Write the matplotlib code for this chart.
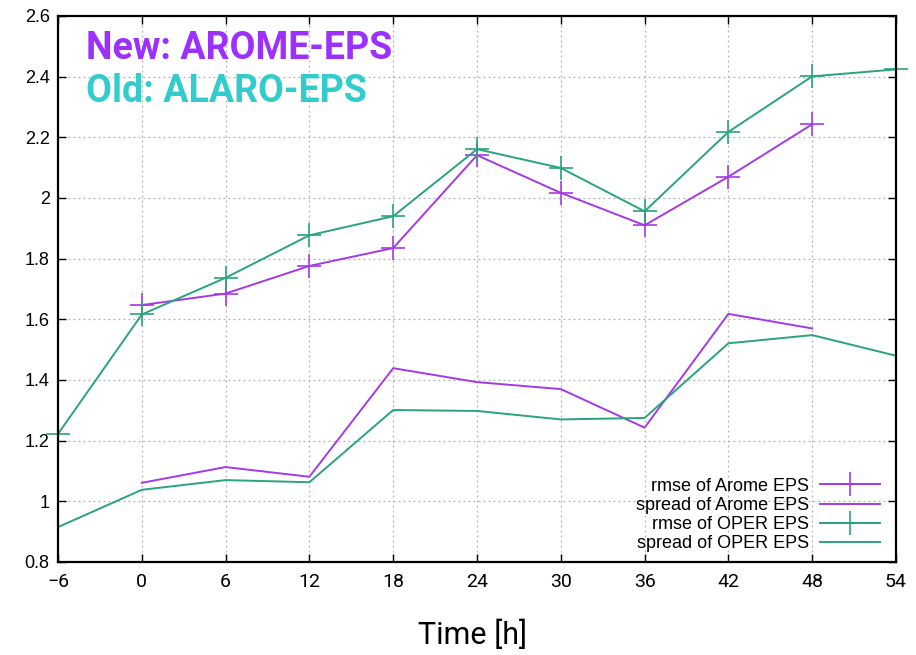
import numpy as np
import matplotlib
matplotlib.use("Agg")
import matplotlib.pyplot as plt
from matplotlib import font_manager

# data
hours = [-6, 0, 6, 12, 18, 24, 30, 36, 42, 48, 54]
arome_h = [0, 6, 12, 18, 24, 30, 36, 42, 48]
arome_rmse = [1.647, 1.685, 1.776, 1.835, 2.141, 2.017, 1.910, 2.070, 2.243]
arome_spread = [1.061, 1.113, 1.081, 1.439, 1.393, 1.370, 1.243, 1.618, 1.570]
oper_rmse = [1.222, 1.616, 1.737, 1.877, 1.940, 2.161, 2.099, 1.956, 2.218, 2.401, 2.424]
oper_spread = [0.915, 1.038, 1.070, 1.063, 1.301, 1.298, 1.270, 1.275, 1.521, 1.548, 1.480]
labels = ["rmse of Arome EPS", "spread of Arome EPS", "rmse of OPER EPS", "spread of OPER EPS"]
yticks = [0.8, 1, 1.2, 1.4, 1.6, 1.8, 2, 2.2, 2.4, 2.6]

names = {f.name for f in font_manager.fontManager.ttflist}
narrow = ["Liberation Sans Narrow", "DejaVu Sans"] if "Liberation Sans Narrow" in names else ["Roboto", "DejaVu Sans"]
plt.rcParams['font.family'] = ['Liberation Sans', 'DejaVu Sans']

purple = "#a43ae6"
green = "#2aa37f"

fig = plt.figure(figsize=(9.16, 6.55), dpi=100)
ax = fig.add_axes([58/916, 1-562/655, (896-58)/916, (562-16)/655])

ax.plot(arome_h, arome_rmse, color=purple, lw=1.4, marker="+", ms=17, mew=1.2, label=labels[0])
ax.plot(arome_h, arome_spread, color=purple, lw=1.4, label=labels[1])
ax.plot(hours, oper_rmse, color=green, lw=1.4, marker="+", ms=17, mew=1.2, label=labels[2], clip_on=False)
ax.plot(hours, oper_spread, color=green, lw=1.4, label=labels[3])

ax.set_xlim(-6, 54)
ax.set_ylim(0.8, 2.6)
ax.set_xticks(hours)
ax.set_xticklabels(["\u22126" if h == -6 else str(h) for h in hours], fontfamily=narrow, fontsize=14)
ax.set_yticks(yticks)
ax.set_yticklabels([("%g" % v) for v in yticks], fontsize=13)
ax.tick_params(direction="in", length=6, width=1, top=True, right=True, pad=6)
ax.tick_params(axis="x", pad=8)
ax.grid(True, color="#b0b0b0", linestyle=(0, (1.5, 2.5)), lw=0.9)
for s in ax.spines.values():
    s.set_linewidth(1.6)

ax.text(0.034, 0.94, "New: AROME-EPS", transform=ax.transAxes, color="#9b30ff",
        fontsize=27, fontweight="bold", fontfamily=narrow, va="center", ha="left")
ax.text(0.034, 0.861, "Old: ALARO-EPS", transform=ax.transAxes, color="#33cccc",
        fontsize=27, fontweight="bold", fontfamily=narrow, va="center", ha="left")

leg = ax.legend(loc="lower right", bbox_to_anchor=(1.0, -0.012), markerfirst=False,
                frameon=False, fontsize=13, handlelength=3.3, handletextpad=0.6,
                labelspacing=0.12)
for t in leg.get_texts():
    t.set_ha("right")

fig.text(473/916, 1-635/655, "Time [h]", fontsize=22, fontfamily=narrow, ha="center", va="center")

fig.savefig("out.png", dpi=100)
